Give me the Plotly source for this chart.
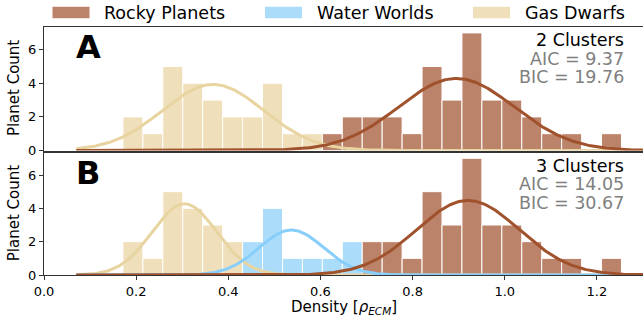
import numpy as np
import plotly.graph_objects as go
from plotly.subplots import make_subplots

# ---------------- data ----------------
bin_start = 0.1713
bin_width = 0.04328
n_bins = 25

# Panel A : 2 clusters
a_gas_counts   = [2, 1, 5, 4, 3, 2, 2, 4, 1, 1, 0, 0, 0, 0, 0, 0, 0, 0, 0, 0, 0, 0, 0, 0, 0]
a_rocky_counts = [0, 0, 0, 0, 0, 0, 0, 0, 0, 0, 1, 2, 2, 2, 1, 5, 3, 7, 3, 3, 2, 1, 1, 0, 1]
# Panel B : 3 clusters
b_gas_counts   = [2, 1, 5, 4, 3, 2, 0, 0, 0, 0, 0, 0, 0, 0, 0, 0, 0, 0, 0, 0, 0, 0, 0, 0, 0]
b_water_counts = [0, 0, 0, 0, 0, 0, 2, 4, 1, 1, 1, 2, 0, 0, 0, 0, 0, 0, 0, 0, 0, 0, 0, 0, 0]
b_rocky_counts = [0, 0, 0, 0, 0, 0, 0, 0, 0, 0, 0, 0, 2, 2, 1, 5, 3, 7, 3, 3, 2, 1, 1, 0, 1]

# Gaussian fits: [mean, sigma, peak count]
a_gas_fit   = [0.367, 0.110, 3.93]
a_rocky_fit = [0.895, 0.125, 4.29]
b_gas_fit   = [0.305, 0.070, 4.27]
b_water_fit = [0.537, 0.070, 2.70]
b_rocky_fit = [0.920, 0.112, 4.47]
curve_range = [0.07, 1.35]

panel_letters = ["A", "B"]
cluster_labels = ["2 Clusters", "3 Clusters"]
aic_labels = ["AIC = 9.37", "AIC = 14.05"]
bic_labels = ["BIC = 19.76", "BIC = 30.67"]
legend_names = ["Rocky Planets", "Water Worlds", "Gas Dwarfs"]
x_ticks = [0.0, 0.2, 0.4, 0.6, 0.8, 1.0, 1.2]
y_ticks = [0, 2, 4, 6]

# ---------------- styles ----------------
ROCKY_BAR, ROCKY_LINE = "#bc836b", "#a0522d"
WATER_BAR, WATER_LINE = "#abdcfa", "#87cefa"
GAS_BAR, GAS_LINE = "#f0dfbb", "#e8d4a0"
FONT = "DejaVu Sans"
AX = "#333333"

W, H = 643, 325
ML, MR, MT, MB = 44, 0, 27, 50
PW, PH = W - ML - MR, H - MT - MB


def pxx(px):
    return (px - ML) / PW


def pxy(py):
    return (H - MB - py) / PH


edges = bin_start + bin_width * np.arange(n_bins + 1)
centers = (edges[:-1] + edges[1:]) / 2

fig = make_subplots(rows=2, cols=1)


def add_hist(counts, color, row):
    c = np.array(counts)
    m = c > 0
    fig.add_trace(go.Bar(x=centers[m], y=c[m], width=bin_width,
                         marker=dict(color=color, line=dict(color="white", width=1)),
                         showlegend=False, hoverinfo="skip"), row=row, col=1)


def add_curve(fit, color, row):
    mu, sd, peak = fit
    xs = np.linspace(curve_range[0], curve_range[1], 400)
    ys = peak * np.exp(-0.5 * ((xs - mu) / sd) ** 2)
    fig.add_trace(go.Scatter(x=xs, y=ys, mode="lines", line=dict(color=color, width=3),
                             showlegend=False, hoverinfo="skip"), row=row, col=1)


add_hist(a_gas_counts, GAS_BAR, 1)
add_hist(a_rocky_counts, ROCKY_BAR, 1)
add_curve(a_gas_fit, GAS_LINE, 1)
add_curve(a_rocky_fit, ROCKY_LINE, 1)

add_hist(b_gas_counts, GAS_BAR, 2)
add_hist(b_water_counts, WATER_BAR, 2)
add_hist(b_rocky_counts, ROCKY_BAR, 2)
add_curve(b_gas_fit, GAS_LINE, 2)
add_curve(b_water_fit, WATER_LINE, 2)
add_curve(b_rocky_fit, ROCKY_LINE, 2)

top_dom = [pxy(150.5), 1.0]
bot_dom = [0.0, pxy(152.5)]

common_x = dict(range=[0, 1.3], showline=True, mirror=True, linecolor=AX, linewidth=1,
                showgrid=False, zeroline=False, tickvals=x_ticks,
                ticktext=[f"{v:.1f}" for v in x_ticks])
common_y = dict(range=[0, 7.35], showline=True, linecolor=AX, linewidth=1, showgrid=False,
                zeroline=False, tickvals=y_ticks, ticks="outside", ticklen=4, tickcolor=AX,
                tickfont=dict(size=13, color="black", family=FONT))

fig.update_layout(
    width=W, height=H, margin=dict(l=ML, r=MR, t=MT, b=MB),
    plot_bgcolor="white", paper_bgcolor="white", barmode="overlay", showlegend=False,
    font=dict(family=FONT, color="black"),
    xaxis=dict(domain=[0, 1], showticklabels=False, ticks="", **common_x),
    yaxis=dict(domain=top_dom, **common_y),
    xaxis2=dict(domain=[0, 1], ticks="outside", ticklen=4, tickcolor=AX,
                tickfont=dict(size=13, color="black", family=FONT), **common_x),
    yaxis2=dict(domain=bot_dom, **common_y),
)

TXT = 17.5
ann = []
panel_tops = [26.7, 152.5]
panel_mid = [(26.7 + 150.5) / 2, (152.5 + 275) / 2]
for i in range(2):
    top = panel_tops[i]
    ann.append(dict(text=f"<b>{panel_letters[i]}</b>", x=pxx(74), y=pxy(top + 20.5),
                    xref="paper", yref="paper", xanchor="left", yanchor="middle",
                    showarrow=False, font=dict(size=32, family=FONT, color="black")))
    for txt, off, col in [(cluster_labels[i], 13.6, "black"),
                          (aic_labels[i], 31.9, "#808080"),
                          (bic_labels[i], 50.2, "#808080")]:
        ann.append(dict(text=txt, x=pxx(626), y=pxy(top + off), height=18,
                        xref="paper", yref="paper", xanchor="right", yanchor="middle",
                        valign="middle", showarrow=False,
                        font=dict(size=TXT, family=FONT, color=col)))
    ann.append(dict(text="Planet Count", x=pxx(13.5), y=pxy(panel_mid[i]), textangle=-90,
                    xref="paper", yref="paper", xanchor="center", yanchor="middle",
                    showarrow=False, font=dict(size=15, family=FONT, color="black")))

ann.append(dict(text="Density [<i>ρ</i><sub><i>ECM</i></sub>]", x=0.5, y=pxy(307),
                xref="paper", yref="paper", xanchor="center", yanchor="middle",
                showarrow=False, font=dict(size=15, family=FONT, color="black")))

# custom legend (wide patches like matplotlib)
leg_patch_x = [52.5, 265, 473]
leg_colors = [ROCKY_BAR, WATER_BAR, GAS_BAR]
shapes = []
for i, name in enumerate(legend_names):
    x0 = leg_patch_x[i]
    shapes.append(dict(type="rect", xref="paper", yref="paper",
                       x0=pxx(x0), x1=pxx(x0 + 37), y0=pxy(18.3), y1=pxy(6.7),
                       fillcolor=leg_colors[i], line=dict(width=0)))
    ann.append(dict(text=name, x=pxx(x0 + 49.5), y=pxy(12.5), xref="paper", yref="paper",
                    xanchor="left", yanchor="middle", showarrow=False,
                    font=dict(size=TXT, family=FONT, color="black")))

fig.update_layout(annotations=ann, shapes=shapes)
fig.write_html("out.html", config={"displayModeBar": False},
               post_script="document.body.style.margin='0';document.body.style.overflow='hidden';")
